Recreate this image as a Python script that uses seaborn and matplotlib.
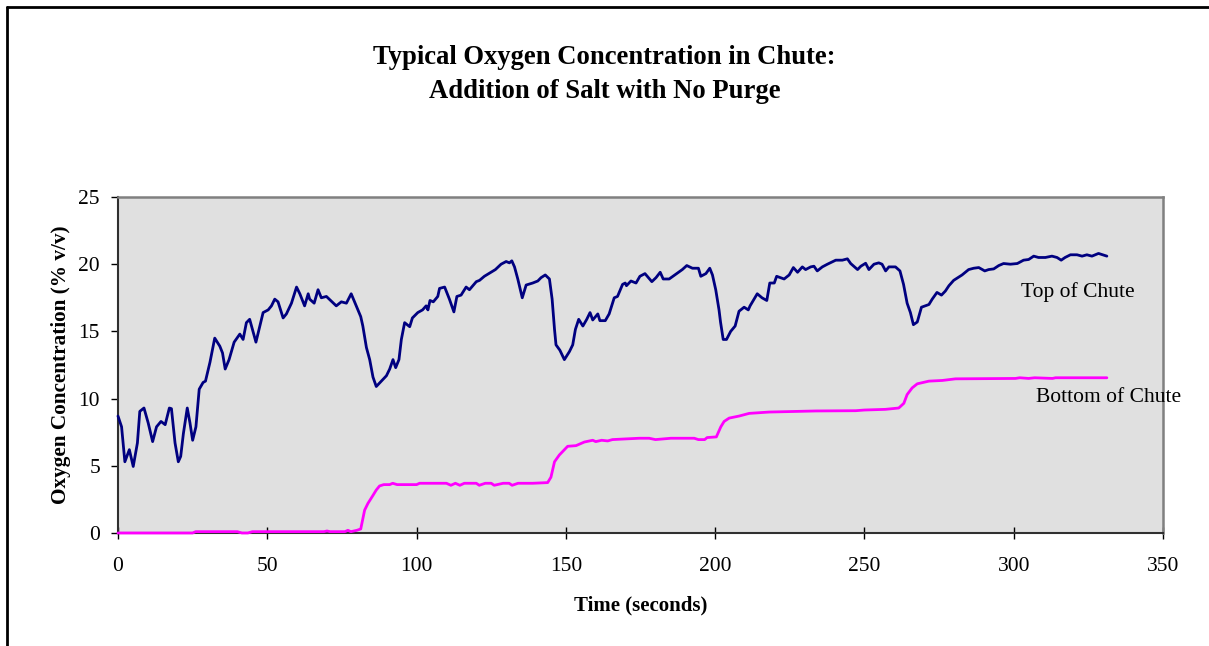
import numpy as np
import pandas as pd
import seaborn as sns
import matplotlib
matplotlib.use("Agg")
import matplotlib.pyplot as plt
from matplotlib.lines import Line2D

top_time = [0, 1.2, 2.3, 3.8, 5.1, 6.5, 7.3, 8.7, 10.1, 11.6, 12.9, 14.4, 15.8, 17.2, 17.9, 19.1, 20.2, 21.0, 21.9, 23.2,
            24.1, 25.0, 26.1, 27.2, 28.5, 29.3, 30.8, 32.4, 34.1, 35.0, 35.9, 37.2, 38.9, 40.8, 41.9, 43.0, 44.1, 46.2, 47.5, 48.6,
            50.3, 51.4, 52.5, 53.6, 55.3, 56.4, 58.1, 59.8, 60.9, 62.5, 63.7, 64.2, 65.7, 67.0, 68.1, 69.8, 73.1, 74.8, 76.5, 78.1,
            79.8, 81.3, 82.0, 83.2, 84.3, 85.4, 86.5, 88.2, 89.9, 91.0, 92.1, 93.0, 94.1, 94.9, 96.0, 97.7, 98.6, 100.4, 102.0, 103.2,
            103.8, 104.5, 105.6, 107.1, 107.7, 109.4, 111.0, 112.5, 113.5, 114.9, 116.6, 117.7, 120.0, 121.1, 122.7, 124.9, 126.4, 128.3, 130.0, 131.1,
            131.9, 132.8, 133.9, 135.4, 136.7, 138.9, 140.6, 141.7, 143.1, 144.5, 145.4, 146.2, 146.7, 148.0, 149.5, 151.2, 152.3, 153.2, 154.3, 155.7,
            157.0, 158.1, 159.0, 160.7, 161.4, 163.2, 164.5, 166.2, 167.3, 169.0, 169.9, 170.3, 171.8, 173.5, 174.8, 176.5, 178.8, 180.2, 181.6, 182.6,
            184.6, 186.8, 189.0, 190.5, 192.4, 194.4, 195.2, 196.9, 198.2, 199.1, 200.2, 201.3, 201.8, 202.7, 203.8, 205.2, 206.7, 208.0, 209.7, 211.1,
            211.7, 214.1, 215.7, 217.3, 218.3, 219.8, 220.6, 223.1, 224.8, 226.2, 227.6, 229.2, 230.3, 232.0, 233.1, 234.2, 235.9, 237.6, 240.4, 242.6,
            244.3, 245.4, 247.7, 248.8, 250.4, 251.5, 253.2, 254.8, 255.9, 257.1, 258.2, 260.4, 261.9, 263.1, 264.3, 265.4, 266.4, 267.7, 269.1, 271.6,
            272.7, 274.3, 275.8, 277.1, 278.3, 279.9, 282.7, 284.9, 286.6, 288.3, 290.3, 291.6, 293.3, 295.0, 296.6, 298.9, 301.2, 303.3, 305.0, 306.7,
            308.3, 310.6, 312.8, 314.5, 315.9, 317.2, 319.0, 321.2, 322.9, 324.5, 326.2, 328.4, 329.8, 331.2]
top_o2 = [8.7, 7.9, 5.3, 6.2, 4.95, 6.7, 9.05, 9.3, 8.2, 6.8, 7.9, 8.3, 8.06, 9.3, 9.25, 6.7, 5.3, 5.7, 7.4, 9.3,
          8.2, 6.9, 7.9, 10.7, 11.2, 11.3, 12.7, 14.5, 13.9, 13.4, 12.2, 12.9, 14.2, 14.8, 14.4, 15.65, 15.9, 14.2, 15.4, 16.4,
          16.6, 16.9, 17.4, 17.2, 16.0, 16.3, 17.1, 18.3, 17.8, 16.9, 17.8, 17.4, 17.1, 18.1, 17.5, 17.6, 16.9, 17.2, 17.1, 17.8,
          16.9, 16.1, 15.4, 13.8, 12.9, 11.6, 10.9, 11.3, 11.7, 12.2, 12.9, 12.3, 12.9, 14.4, 15.65, 15.35, 16.0, 16.4, 16.6, 16.9,
          16.6, 17.3, 17.2, 17.6, 18.2, 18.3, 17.4, 16.45, 17.6, 17.7, 18.3, 18.1, 18.7, 18.8, 19.1, 19.4, 19.6, 20.0, 20.2, 20.1,
          20.25, 19.8, 18.9, 17.5, 18.45, 18.6, 18.75, 19.0, 19.2, 18.9, 17.4, 15.15, 14.0, 13.6, 12.9, 13.5, 14.0, 15.15, 15.9, 15.4,
          15.9, 16.4, 15.85, 16.3, 15.8, 15.8, 16.3, 17.5, 17.6, 18.5, 18.6, 18.4, 18.75, 18.6, 19.1, 19.3, 18.7, 19.0, 19.4, 18.9,
          18.9, 19.25, 19.6, 19.9, 19.7, 19.7, 19.1, 19.3, 19.7, 19.2, 18.1, 16.6, 15.7, 14.4, 14.4, 15.0, 15.4, 16.5, 16.8, 16.6,
          16.9, 17.8, 17.5, 17.3, 18.6, 18.6, 19.1, 18.9, 19.2, 19.75, 19.4, 19.8, 19.6, 19.8, 19.85, 19.5, 19.8, 20.0, 20.3, 20.3,
          20.4, 20.05, 19.6, 19.85, 20.07, 19.6, 20.0, 20.1, 20.0, 19.5, 19.8, 19.8, 19.5, 18.5, 17.1, 16.4, 15.5, 15.7, 16.8, 17.0,
          17.4, 17.9, 17.7, 18.0, 18.4, 18.8, 19.2, 19.6, 19.7, 19.75, 19.5, 19.6, 19.65, 19.9, 20.05, 20.0, 20.05, 20.3, 20.35, 20.6,
          20.5, 20.5, 20.6, 20.5, 20.3, 20.5, 20.7, 20.7, 20.6, 20.7, 20.6, 20.8, 20.7, 20.6]

bottom_time = [0, 25, 26, 40, 41.5, 43.5, 45, 69, 70, 71, 76, 77, 78, 80, 81.3, 82.6, 83.7, 85.4, 86.5, 87.6,
               89, 91, 92, 93.5, 100, 101, 110, 111.5, 113, 114.5, 116, 120, 121, 123, 125, 126, 129, 131, 132, 134,
               138.9, 143.9, 145.0, 146.2, 147.8, 150.6, 153.4, 156.2, 159, 160, 162, 164, 165.6, 170, 174.6, 177.9, 180, 185.2, 193, 194.4,
               196.5, 197.3, 200.4, 201.9, 203, 204.7, 208, 211.4, 218.1, 233.7, 247.1, 250, 257, 261.5, 263.2, 264.3, 266, 267.7, 271.6, 276.1,
               280.5, 300.6, 302, 305, 307, 313, 314, 331.2]
bottom_o2 = [0.0, 0.0, 0.1, 0.1, 0.0, 0.0, 0.1, 0.1, 0.15, 0.1, 0.1, 0.2, 0.1, 0.2, 0.3, 1.7, 2.2, 2.8, 3.2, 3.5,
             3.6, 3.6, 3.7, 3.6, 3.6, 3.7, 3.7, 3.55, 3.7, 3.55, 3.7, 3.7, 3.55, 3.7, 3.7, 3.55, 3.7, 3.7, 3.55, 3.7,
             3.7, 3.75, 4.15, 5.3, 5.8, 6.45, 6.5, 6.77, 6.9, 6.8, 6.9, 6.85, 6.95, 7.0, 7.05, 7.05, 6.95, 7.05, 7.05, 6.95,
             6.95, 7.1, 7.15, 7.9, 8.3, 8.55, 8.7, 8.9, 9.0, 9.08, 9.1, 9.15, 9.2, 9.3, 9.65, 10.3, 10.8, 11.1, 11.3, 11.35,
             11.47, 11.5, 11.55, 11.5, 11.55, 11.5, 11.55, 11.55]

series_names = ["Top of Chute", "Bottom of Chute"]
series_colors = ["#000080", "#FF00FF"]
x_ticks = [0, 50, 100, 150, 200, 250, 300, 350]
y_ticks = [0, 5, 10, 15, 20, 25]

df = pd.concat([
    pd.DataFrame({"Time": top_time, "O2": top_o2, "Location": series_names[0]}),
    pd.DataFrame({"Time": bottom_time, "O2": bottom_o2, "Location": series_names[1]}),
], ignore_index=True)

sns.set_theme(style="white")
plt.rcParams["font.family"] = ["Liberation Serif", "DejaVu Serif"]
plt.rcParams["text.color"] = "black"
plt.rcParams["axes.labelcolor"] = "black"

fig = plt.figure(figsize=(12.09, 6.46), dpi=100)
ax = fig.add_axes([118 / 1209, 1 - 533 / 646, (1163 - 118) / 1209, (533 - 197) / 646])
ax.set_facecolor("#E0E0E0")

sns.lineplot(data=df, x="Time", y="O2", hue="Location", palette=dict(zip(series_names, series_colors)),
             linewidth=2.0, legend=False, ax=ax, sort=False, estimator=None)
for ln in ax.get_lines():
    ln.set_clip_on(False)
    ln.set_zorder(5)

ax.set_xlim(0, 350)
ax.set_ylim(0, 25)
ax.set_xticks(x_ticks)
ax.set_yticks(y_ticks)
ax.tick_params(axis="x", direction="inout", length=9, width=1, labelsize=15.5, pad=13, colors="black")
ax.tick_params(axis="y", direction="out", length=5, width=1, labelsize=15.5, pad=8, colors="black")
ax.tick_params(left=True, bottom=True)

for side in ["top", "right"]:
    ax.spines[side].set_color("#808080")
    ax.spines[side].set_linewidth(1.8)
for side in ["left", "bottom"]:
    ax.spines[side].set_color("#303030")
    ax.spines[side].set_linewidth(1.5)

ax.set_xlabel("Time (seconds)", fontsize=15, fontweight="bold", labelpad=14)
ax.set_ylabel("Oxygen Concentration (% v/v)", fontsize=15.3, fontweight="bold", labelpad=5)

ax.text(302.5, 17.9, "Top of Chute", fontsize=15.5, va="center", ha="left")
ax.text(307.5, 10.1, "Bottom of Chute", fontsize=15.5, va="center", ha="left", clip_on=False)

fig.text(0.5, 1 - 58 / 646, "Typical Oxygen Concentration in Chute:", ha="center", va="center",
         fontsize=19.2, fontweight="bold")
fig.text(0.5, 1 - 92 / 646, "Addition of Salt with No Purge", ha="center", va="center",
         fontsize=19.2, fontweight="bold")

fig.add_artist(Line2D([7 / 1209, 7 / 1209], [0, 1 - 7 / 646], transform=fig.transFigure, color="black", linewidth=2))
fig.add_artist(Line2D([7 / 1209, 1], [1 - 7 / 646, 1 - 7 / 646], transform=fig.transFigure, color="black", linewidth=2))

fig.savefig("out.png", dpi=100, facecolor="white")
